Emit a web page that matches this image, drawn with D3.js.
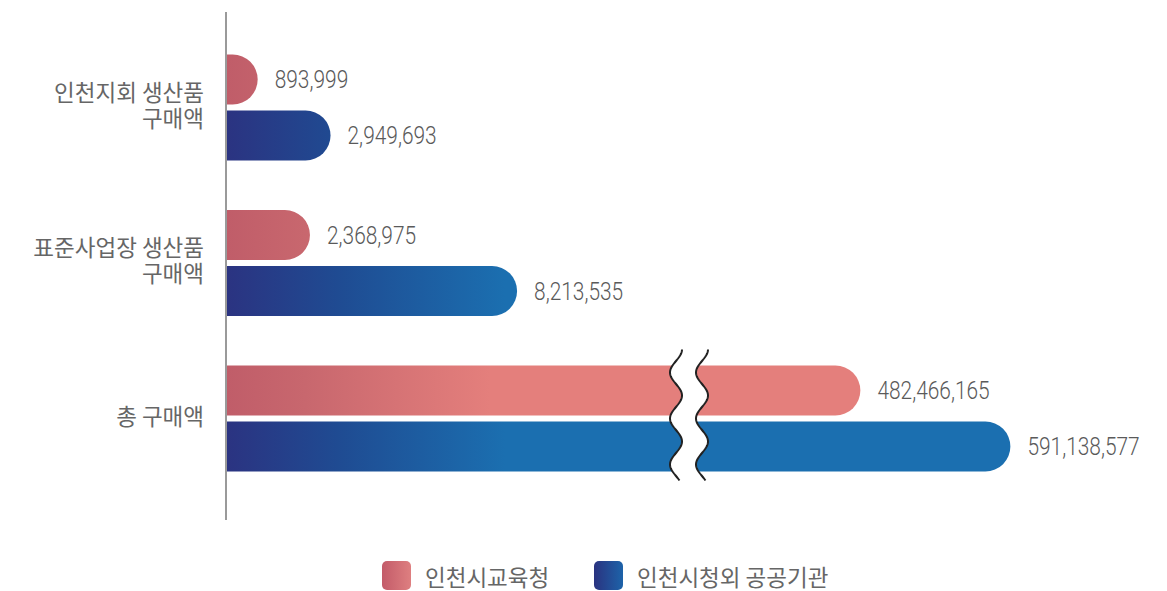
<!DOCTYPE html>
<html>
<head>
<meta charset="utf-8">
<script src="https://cdn.jsdelivr.net/npm/d3@7/dist/d3.min.js"></script>
<style>
  html, body { margin: 0; padding: 0; background: #fff; }
  svg { display: block; }
  .num { font-family: "Roboto", sans-serif; font-weight: 300; fill: #5a5a5a; }
  .kr { font-family: "Noto Sans CJK KR", sans-serif; fill: #666; }
</style>
</head>
<body>
<svg id="chart" width="1167" height="591"></svg>
<script>
// ---- data ----
const categories = ["인천지회 생산품 구매액", "표준사업장 생산품 구매액", "총 구매액"];
const categoryLines = [["인천지회 생산품", "구매액"], ["표준사업장 생산품", "구매액"], ["총 구매액"]];
const seriesNames = ["인천시교육청", "인천시청외 공공기관"];
const educationValues = [893999, 2368975, 482466165];
const otherValues = [2949693, 8213535, 591138577];
// broken value axis: [start, break begins, break ends, end]
const axisBreakDomain = [0, 12670000, 367000000, 600000000];

// ---- layout ----
const svg = d3.select("#chart");
const axisX = 226;
const x = d3.scaleLinear()
  .domain(axisBreakDomain)
  .range([axisX, 675, 701, 701 + (axisBreakDomain[3] - axisBreakDomain[2]) * 1.3803e-6]);
const y = d3.scaleBand().domain(categories).range([29.75, 496.25]).padding(0);
const barH = 50, barGap = 6;
const fmt = d3.format(",");

// gradients
const defs = svg.append("defs");
function grad(id, stops, x1, x2) {
  const g = defs.append("linearGradient").attr("id", id)
    .attr("gradientUnits", "userSpaceOnUse")
    .attr("x1", x1).attr("x2", x2).attr("y1", 0).attr("y2", 0);
  stops.forEach(s => g.append("stop").attr("offset", s[0]).attr("stop-color", s[1]));
}
grad("gRed", [[0, "#c05d69"], [0.3, "#c8676e"], [1, "#e47f7c"]], axisX, 490);
grad("gBlue", [[0, "#2b3381"], [0.4, "#1f4b92"], [1, "#1b6fb0"]], axisX, 505);
const lg1 = defs.append("linearGradient").attr("id", "lRed");
lg1.append("stop").attr("offset", 0).attr("stop-color", "#c35b69");
lg1.append("stop").attr("offset", 1).attr("stop-color", "#de7f80");
const lg2 = defs.append("linearGradient").attr("id", "lBlue");
lg2.append("stop").attr("offset", 0).attr("stop-color", "#2a3380");
lg2.append("stop").attr("offset", 1).attr("stop-color", "#1d63a9");

function barPath(x0, x1, y0, h) {
  const r = h / 2;
  return `M${x0},${y0}H${x1 - r}A${r},${r} 0 0 1 ${x1 - r},${y0 + h}H${x0}Z`;
}

const rows = categories.map((c, i) => ({ c, edu: educationValues[i], other: otherValues[i], lines: categoryLines[i] }));
const center = d => y(d.c) + y.bandwidth() / 2;

const g = svg.append("g");
const series = [
  { key: "edu", fill: "url(#gRed)", top: d => center(d) - barGap / 2 - barH },
  { key: "other", fill: "url(#gBlue)", top: d => center(d) + barGap / 2 }
];
series.forEach(s => {
  g.selectAll(".bar-" + s.key).data(rows).join("path")
    .attr("class", "bar-" + s.key)
    .attr("fill", s.fill)
    .attr("d", d => barPath(x(0), x(d[s.key]), s.top(d), barH));
  g.selectAll(".lbl-" + s.key).data(rows).join("text")
    .attr("class", "num")
    .attr("transform", d => `translate(${x(d[s.key]) + 17},${s.top(d) + barH / 2}) scale(0.82,1)`)
    .attr("dominant-baseline", "central")
    .attr("font-size", 25.5)
    .text(d => fmt(d[s.key]));
});

// axis break (wavy gap) over the bars that cross it
const breakRow = rows.filter(d => d.edu > axisBreakDomain[2] || d.other > axisBreakDomain[2]);
breakRow.forEach(d => {
  const yTop = center(d) - barGap / 2 - barH - 16;
  const yBot = center(d) + barGap / 2 + barH + 9;
  const amp = 6, period = 46;
  const xl = x(axisBreakDomain[1]) + 1, xr = x(axisBreakDomain[2]) + 1;
  const pts = d3.range(yTop, yBot + 0.5, 1).map(yy => ({ y: yy, o: amp * Math.cos(2 * Math.PI * (yy - yTop) / period) }));
  g.append("path")
    .attr("fill", "#fff")
    .attr("d", d3.area().y(p => p.y).x0(p => xl + p.o).x1(p => xr + p.o)(pts));
  [xl, xr].forEach(cx => {
    g.append("path")
      .attr("fill", "none").attr("stroke", "#222").attr("stroke-width", 2)
      .attr("d", d3.line().x(p => cx + p.o).y(p => p.y)(pts));
  });
});

// value axis baseline
svg.append("line")
  .attr("x1", axisX).attr("x2", axisX).attr("y1", 12).attr("y2", 520)
  .attr("stroke", "#9a9a9a").attr("stroke-width", 2);

// category labels
const lineH = 26;
rows.forEach(d => {
  const n = d.lines.length;
  const c0 = center(d) - 4 - (n - 1) * lineH / 2;
  d.lines.forEach((t, k) => {
    svg.append("text").attr("class", "kr")
      .attr("x", 204).attr("y", c0 + k * lineH)
      .attr("text-anchor", "end").attr("dominant-baseline", "central")
      .attr("font-size", 22.5)
      .text(t);
  });
});

// legend
const legend = svg.append("g");
const legendX = [382, 594];
const legendFill = ["url(#lRed)", "url(#lBlue)"];
seriesNames.forEach((s, i) => {
  legend.append("rect").attr("x", legendX[i]).attr("y", 561).attr("width", 29).attr("height", 29)
    .attr("rx", 5).attr("fill", legendFill[i]);
  legend.append("text").attr("class", "kr")
    .attr("x", legendX[i] + 43).attr("y", 576)
    .attr("dominant-baseline", "central").attr("font-size", 22.5)
    .text(s);
});
</script>
</body>
</html>
